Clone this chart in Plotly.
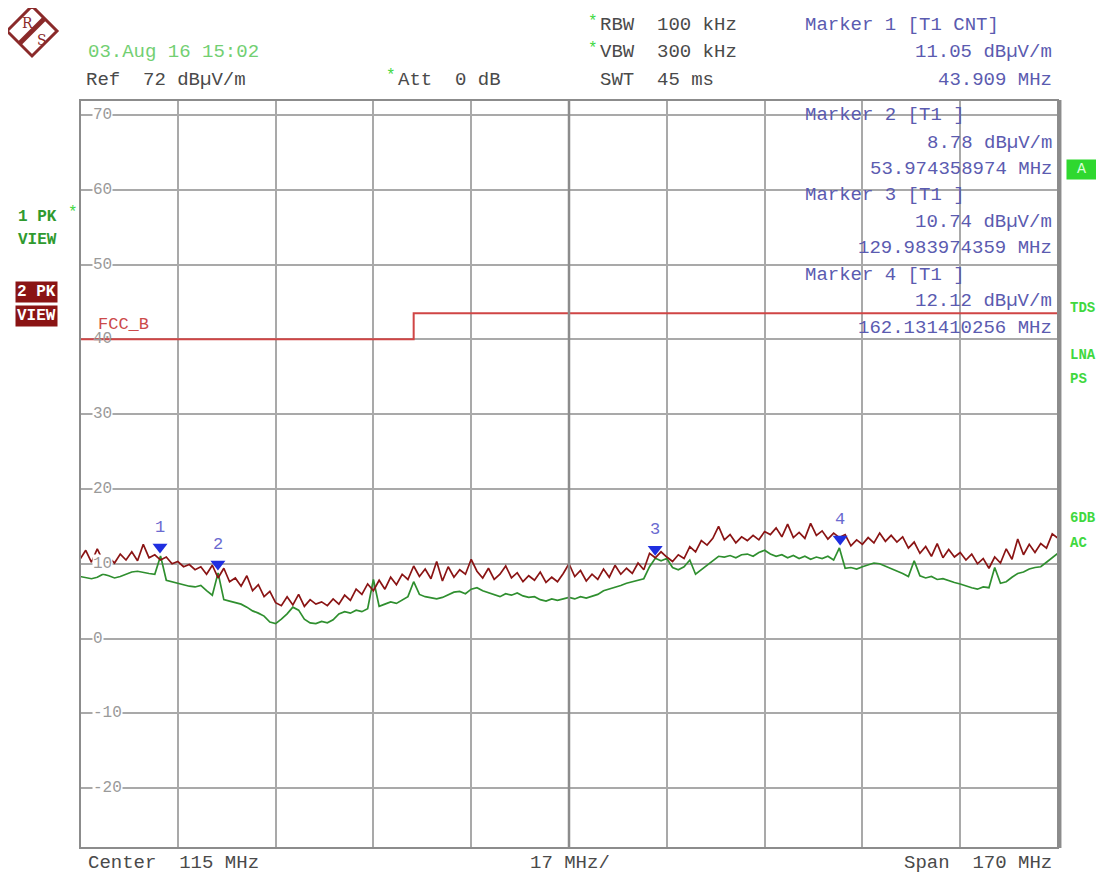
import numpy as np
import plotly.graph_objects as go

# ---------------- data ----------------
freq_start_mhz = 30
freq_stop_mhz = 200
freq_step_mhz = 1
freq_mhz = list(range(freq_start_mhz, freq_stop_mhz + 1, freq_step_mhz))

# Trace 2 (PK, dark red) in dBuV/m, 30..200 MHz step 1 MHz
trace2_db = [
    10.6, 11.8, 10.2, 12.0, 10.4, 10.9, 10.1, 11.3, 10.5, 11.6,   # 30-39
    10.4, 12.6, 10.8, 11.2, 10.5, 10.9, 10.0, 10.3, 9.6, 9.9,     # 40-49
    9.2, 9.6, 8.6, 9.8, 8.1, 9.4, 7.6, 8.1, 7.0, 8.4,             # 50-59
    6.4, 7.2, 5.6, 6.3, 4.8, 4.4, 5.6, 4.5, 5.9, 4.3,             # 60-69
    5.2, 4.6, 4.9, 4.4, 5.3, 4.6, 5.8, 5.1, 6.6, 5.9,             # 70-79
    7.3, 6.4, 7.8, 6.6, 8.2, 7.2, 8.6, 7.9, 9.7, 8.3,             # 80-89
    9.3, 8.0, 10.3, 7.7, 9.6, 8.2, 9.2, 8.6, 10.6, 9.0,           # 90-99
    8.1, 9.4, 7.9, 8.6, 9.7, 8.1, 8.8, 7.6, 8.4, 7.8,             # 100-109
    8.9, 7.5, 8.2, 7.6, 8.7, 10.0, 8.3, 9.1, 7.7, 8.6,            # 110-119
    7.9, 9.3, 8.2, 9.8, 8.6, 9.4, 8.7, 10.1, 9.2, 11.4,           # 120-129
    10.8, 11.6, 10.9, 10.3, 11.2, 10.7, 12.3, 11.6, 13.1, 12.5,   # 130-139
    13.4, 15.0, 13.2, 13.9, 12.8, 13.6, 13.1, 13.8, 13.2, 14.3,   # 140-149
    13.9, 14.8, 13.6, 15.3, 13.5, 14.2, 13.4, 15.4, 13.8, 14.4,   # 150-159
    13.3, 14.1, 13.5, 13.9, 12.4, 13.2, 12.6, 13.5, 12.8, 14.1,   # 160-169
    13.0, 13.8, 12.9, 13.6, 12.1, 12.9, 11.4, 12.3, 11.0, 12.7,   # 170-179
    10.8, 11.9, 10.9, 11.5, 10.5, 11.3, 10.0, 10.7, 9.4, 10.9,    # 180-189
    10.1, 12.0, 10.6, 13.3, 11.2, 12.6, 11.5, 12.7, 12.1, 14.0,   # 190-199
    13.4,                                                         # 200
]

# Trace 1 (PK, green) in dBuV/m, 30..200 MHz step 1 MHz
trace1_db = [
    8.3, 8.1, 8.0, 8.2, 8.6, 8.4, 8.1, 8.3, 8.6, 8.9,             # 30-39
    9.0, 8.8, 8.7, 8.6, 11.05, 7.8, 7.6, 7.3, 7.2, 7.0,           # 40-49
    6.9, 7.1, 6.4, 5.8, 8.78, 5.2, 5.0, 4.8, 4.6, 4.2,            # 50-59
    3.7, 3.4, 3.0, 2.2, 2.0, 2.6, 3.3, 4.2, 3.8, 2.6,             # 60-69
    2.1, 2.0, 2.3, 2.1, 2.5, 3.3, 3.6, 3.4, 3.8, 3.6,             # 70-79
    4.0, 7.9, 4.3, 4.6, 4.9, 4.7, 5.2, 5.6, 7.6, 5.9,             # 80-89
    5.6, 5.5, 5.3, 5.5, 5.9, 6.2, 6.3, 6.0, 6.6, 6.8,             # 90-99
    6.4, 6.1, 5.8, 5.6, 6.0, 5.8, 6.1, 5.7, 5.5, 5.6,             # 100-109
    5.2, 5.0, 5.3, 5.1, 5.3, 5.5, 5.3, 5.6, 5.4, 5.7,             # 110-119
    5.9, 6.4, 6.6, 6.8, 7.1, 7.4, 7.6, 7.8, 8.0, 9.6,             # 120-129
    10.74, 10.4, 10.7, 9.5, 9.2, 9.6, 10.5, 8.6, 9.2, 9.9,        # 130-139
    10.5, 11.0, 10.9, 11.1, 10.8, 11.2, 11.3, 11.0, 11.5, 11.8,   # 140-149
    11.3, 11.0, 11.2, 10.8, 11.1, 10.7, 11.0, 10.6, 10.9, 10.7,   # 150-159
    11.0, 10.5, 12.12, 9.4, 9.5, 9.3, 9.6, 9.8, 10.1, 10.0,       # 160-169
    9.7, 9.3, 9.1, 8.7, 8.3, 10.4, 8.4, 8.1, 8.3, 7.9,            # 170-179
    8.0, 7.7, 7.5, 7.3, 7.0, 6.8, 6.6, 6.9, 6.8, 9.5,             # 180-189
    7.4, 7.6, 8.2, 8.7, 8.9, 9.3, 9.5, 9.6, 10.2, 10.8,           # 190-199
    11.4,                                                         # 200
]

# FCC class B limit line
limit_freq_mhz = [30, 88, 88, 200]
limit_db = [40, 40, 43.5, 43.5]
limit_name = "FCC_B"

# Markers (on trace 1)
marker_ids = ["1", "2", "3", "4"]
marker_freq_mhz = [43.909, 53.974358974, 129.983974359, 162.131410256]
marker_db = [11.05, 8.78, 10.74, 12.12]
marker_freq_text = ["43.909 MHz", "53.974358974 MHz", "129.983974359 MHz", "162.131410256 MHz"]
marker_level_text = ["11.05 dBµV/m", "8.78 dBµV/m", "10.74 dBµV/m", "12.12 dBµV/m"]

# Axis settings
ref_level_db = 72
y_bottom_db = -28
y_tick_vals = [70, 60, 50, 40, 30, 20, 10, 0, -10, -20]
x_div_mhz = 17

# ---------------- figure ----------------
OFF = 8                      # page body margin of the browser
W, H = 1104 - OFF, 875 - OFF
L, R, T, B = 80, 1058, 100, 848   # plot area in reference px


def px(x, y):
    return (x - L) / (R - L), (B - y) / (B - T)


MONO = "Liberation Mono, Courier New, monospace"
GRID = "#a9a9a9"
TXT = "#4a4a4a"
MK = "#5b5bb0"
LG = "#3fd83f"
LOGO = "#8a2a2a"

fig = go.Figure()

fig.add_trace(go.Scatter(x=limit_freq_mhz, y=limit_db, mode="lines",
                         line=dict(color="#d04545", width=2), hoverinfo="skip"))
fig.add_trace(go.Scatter(x=freq_mhz, y=trace1_db, mode="lines",
                         line=dict(color="#2f8f2f", width=1.7)))
fig.add_trace(go.Scatter(x=freq_mhz, y=trace2_db, mode="lines",
                         line=dict(color="#8a1414", width=1.7)))
fig.add_trace(go.Scatter(x=marker_freq_mhz, y=[v + 1.2 for v in marker_db], mode="markers",
                         marker=dict(symbol="triangle-down", size=13, color="#1f2fe0",
                                     line=dict(width=0))))

ann = []


def T_(x, y, text, color=TXT, size=19, anchor="left", bold=False, bg=None, family=MONO):
    xp, yp = px(x, y)
    t = f"<b>{text}</b>" if bold else text
    d = dict(x=xp, y=yp, xref="paper", yref="paper", text=t, showarrow=False,
             xanchor=anchor, yanchor="middle", font=dict(family=family, size=size, color=color))
    if bg:
        d["bgcolor"] = bg
        d["borderpad"] = 1
    ann.append(d)


# header
T_(86, 52, "03.Aug 16 15:02", color="#72cf72")
T_(84, 80, "Ref  72 dBµV/m")
T_(384, 76, "*", color=LG, size=16)
T_(396, 80, "Att  0 dB")
T_(586, 22, "*", color=LG, size=16)
T_(598, 25, "RBW  100 kHz")
T_(586, 49, "*", color=LG, size=16)
T_(598, 52, "VBW  300 kHz")
T_(598, 80, "SWT  45 ms")
T_(803, 25, "Marker 1 [T1 CNT]", color=MK)
T_(1054, 52, marker_level_text[0], color=MK, anchor="right")
T_(1054, 80, marker_freq_text[0], color=MK, anchor="right")

# marker table inside the plot
rows = [(115, 143, 169), (195, 222, 248), (275, 301, 328)]
for i, (y1, y2, y3) in enumerate(rows, start=1):
    T_(803, y1, f"Marker {marker_ids[i]} [T1 ]", color=MK)
    T_(1054, y2, marker_level_text[i], color=MK, anchor="right")
    T_(1054, y3, marker_freq_text[i], color=MK, anchor="right")

# left labels
T_(16, 217, "1 PK", color="#2f9a2f", size=16, bold=True)
T_(66, 213, "*", color=LG, size=16)
T_(16, 240, "VIEW", color="#2f9a2f", size=16, bold=True)
T_(15, 292, "2 PK", color="white", size=16, bold=True, bg="#8a1414")
T_(15, 316, "VIEW", color="white", size=16, bold=True, bg="#8a1414")

# right labels
T_(1066, 169, " A ", color="#d8ffd8", size=15, bg="#2fd82f")
for yy, tx in [(308, "TDS"), (355, "LNA"), (379, "PS"), (518, "6DB"), (543, "AC")]:
    T_(1068, yy, tx, color=LG, size=14, bold=True)

# bottom
T_(86, 863, "Center  115 MHz")
T_(570, 863, f"{x_div_mhz} MHz/", anchor="center")
T_(1054, 863, "Span  170 MHz", anchor="right")

# limit line name
T_(96, 324, limit_name, color="#cc4a4a", size=17)

# y tick labels inside the plot (with white background over grid line)
for v in y_tick_vals:
    ann.append(dict(x=0, y=v, xref="paper", yref="y", text=str(v), showarrow=False,
                    xanchor="left", yanchor="middle", xshift=12,
                    bgcolor="white" if v != 40 else None, borderpad=0,
                    font=dict(family=MONO, size=16, color="#9a9a9a")))

# marker numbers
for mid, f, v in zip(marker_ids, marker_freq_mhz, marker_db):
    ann.append(dict(x=f, y=v, xref="x", yref="y", text=mid, showarrow=False,
                    xanchor="center", yanchor="bottom", yshift=17,
                    font=dict(family=MONO, size=17, color="#6a6ad0")))

shapes = [
    # centre vertical line (darker)
    dict(type="line", xref="paper", yref="paper", x0=0.5, x1=0.5, y0=0, y1=1,
         line=dict(color="#8c8c8c", width=2.5)),
    # frame
    dict(type="rect", xref="paper", yref="paper", x0=0, x1=1, y0=0, y1=1,
         line=dict(color="#8c8c8c", width=2)),
    dict(type="line", xref="paper", yref="paper", x0=1.002, x1=1.002, y0=0, y1=1.0,
         line=dict(color="#8c8c8c", width=3)),
]

# R&S logo (diamond)
cx, cy, r = 32, 31, 25
pts = [px(cx, cy - r), px(cx + r, cy), px(cx, cy + r), px(cx - r, cy)]
path = "M " + " L ".join(f"{a},{b}" for a, b in pts) + " Z"
shapes.append(dict(type="path", xref="paper", yref="paper", path=path,
                   line=dict(color=LOGO, width=3), fillcolor="white"))
a0 = px(44, 19)
a1 = px(20, 43)
shapes.append(dict(type="line", xref="paper", yref="paper", x0=a0[0], y0=a0[1], x1=a1[0], y1=a1[1],
                   line=dict(color=LOGO, width=5)))
T_(20, 23, "R", color=LOGO, size=14, family="DejaVu Serif")
T_(35, 40, "S", color=LOGO, size=14, family="DejaVu Serif")

fig.update_layout(
    width=W, height=H,
    margin=dict(l=L - OFF, r=(1104 - R), t=T - OFF, b=(875 - B), pad=0),
    paper_bgcolor="white", plot_bgcolor="white",
    showlegend=False,
    annotations=ann, shapes=shapes,
    xaxis=dict(range=[freq_start_mhz, freq_stop_mhz], tick0=freq_start_mhz, dtick=x_div_mhz,
               showgrid=True, gridcolor=GRID, gridwidth=1.5, showticklabels=False,
               zeroline=False, showline=False, ticks=""),
    yaxis=dict(range=[y_bottom_db, ref_level_db], tickmode="array", tickvals=y_tick_vals,
               showgrid=True, gridcolor=GRID, gridwidth=1.5, showticklabels=False,
               zeroline=False, showline=False, ticks=""),
)

fig.write_html("out.html")
